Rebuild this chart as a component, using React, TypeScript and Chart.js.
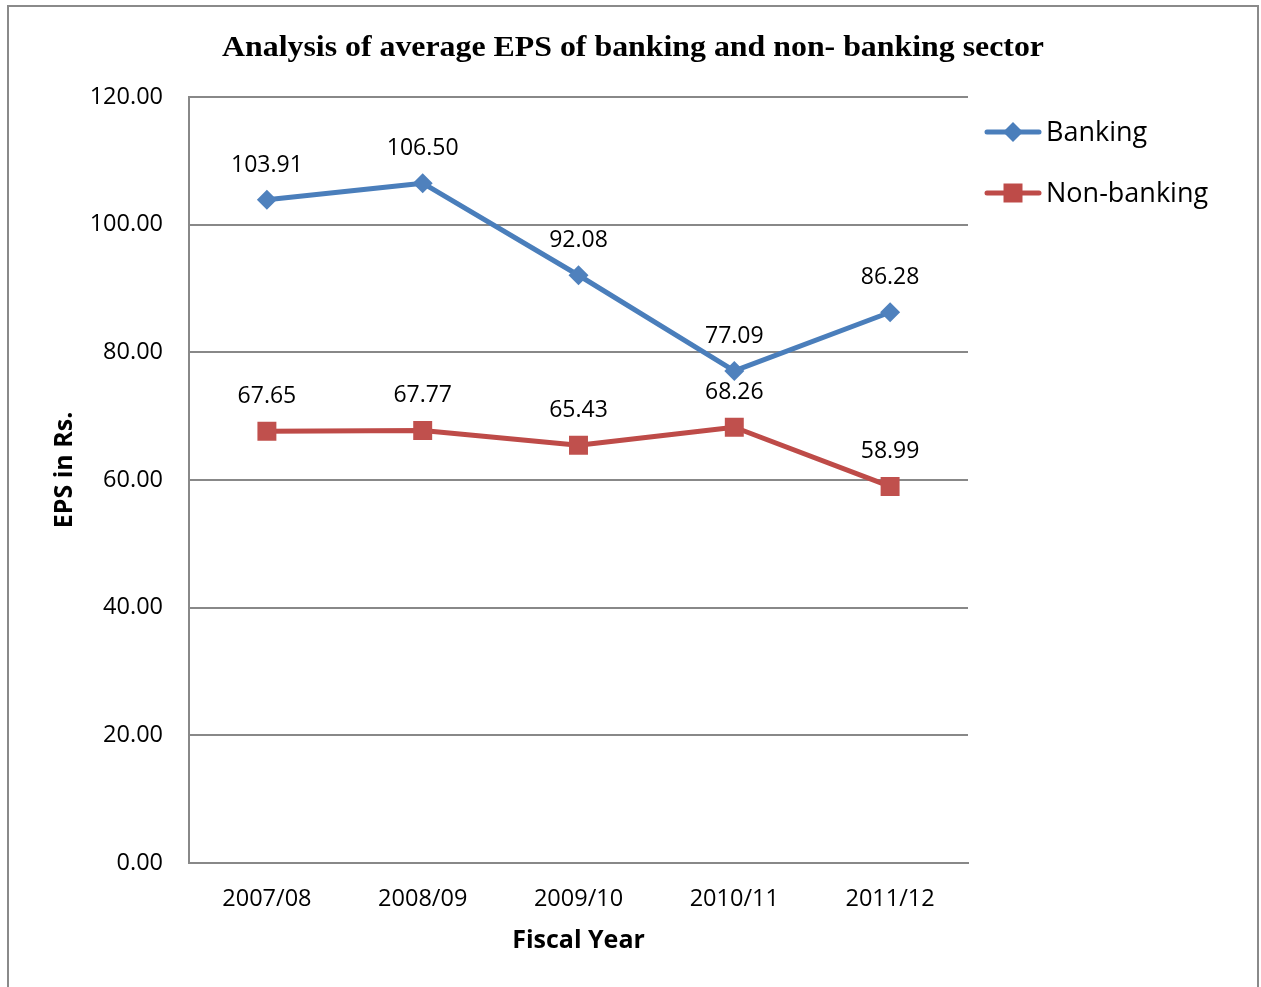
import React, { useEffect, useRef } from 'react';
import { Chart, registerables } from 'chart.js';

Chart.register(...registerables);

const categories = ['2007/08', '2008/09', '2009/10', '2010/11', '2011/12'];
const bankingValues = [103.91, 106.5, 92.08, 77.09, 86.28];
const nonBankingValues = [67.65, 67.77, 65.43, 68.26, 58.99];
const yTickValues = [0, 20, 40, 60, 80, 100, 120];
const seriesNames = ['Banking', 'Non-banking'];
const chartTitle = 'Analysis of average EPS of banking and non- banking sector';
const xAxisTitle = 'Fiscal Year';
const yAxisTitle = 'EPS in Rs.';

const BLUE = '#4A7EBB';
const RED = '#BE4B48';
const GRID = '#888888';
const FONT = '"Open Sans", "DejaVu Sans", sans-serif';

const decorPlugin = {
  id: 'decor',
  beforeDraw(chart: any) {
    const ctx = chart.ctx;
    ctx.save();
    ctx.fillStyle = '#ffffff';
    ctx.fillRect(0, 0, chart.width, chart.height);
    ctx.strokeStyle = '#8a8a8a';
    ctx.lineWidth = 2;
    ctx.strokeRect(8, 6, 1250, 1000);
    ctx.restore();
  },
  afterDraw(chart: any) {
    const ctx = chart.ctx;
    ctx.save();
    // title (stretched horizontally to the reference width)
    ctx.fillStyle = '#000';
    ctx.font = 'bold 29px "Liberation Serif", "Times New Roman", serif';
    ctx.textAlign = 'center';
    ctx.textBaseline = 'alphabetic';
    const w = ctx.measureText(chartTitle).width;
    const sx = 822 / w;
    ctx.save();
    ctx.translate(633, 56);
    ctx.scale(sx, 1);
    ctx.fillText(chartTitle, 0, 0);
    ctx.restore();

    // y axis title
    ctx.save();
    ctx.translate(65, 470);
    ctx.rotate(-Math.PI / 2);
    ctx.font = 'bold 25px ' + FONT;
    ctx.textAlign = 'center';
    ctx.textBaseline = 'middle';
    ctx.fillText(yAxisTitle, 0, 0);
    ctx.restore();

    // data labels
    ctx.font = '23px ' + FONT;
    ctx.textAlign = 'center';
    ctx.textBaseline = 'alphabetic';
    chart.data.datasets.forEach((ds: any, i: number) => {
      const meta = chart.getDatasetMeta(i);
      meta.data.forEach((pt: any, j: number) => {
        ctx.fillText(Number(ds.data[j]).toFixed(2), pt.x, pt.y - 28);
      });
    });

    // legend
    const items = [
      { label: seriesNames[0], color: BLUE, shape: 'diamond', y: 132 },
      { label: seriesNames[1], color: RED, shape: 'square', y: 193 },
    ];
    items.forEach((it) => {
      ctx.strokeStyle = it.color;
      ctx.lineWidth = 5;
      ctx.lineCap = 'round';
      ctx.beginPath();
      ctx.moveTo(987, it.y);
      ctx.lineTo(1039, it.y);
      ctx.stroke();
      ctx.fillStyle = it.color;
      const cx = 1013;
      ctx.beginPath();
      if (it.shape === 'diamond') {
        ctx.moveTo(cx - 10, it.y);
        ctx.lineTo(cx, it.y - 10);
        ctx.lineTo(cx + 10, it.y);
        ctx.lineTo(cx, it.y + 10);
        ctx.closePath();
      } else {
        ctx.rect(cx - 9.5, it.y - 9.5, 19, 19);
      }
      ctx.fill();
      ctx.fillStyle = '#000';
      ctx.font = '27px ' + FONT;
      ctx.textAlign = 'left';
      ctx.textBaseline = 'alphabetic';
      ctx.fillText(it.label, 1046, it.y + 9);
    });
    ctx.restore();
  },
};

export default function App() {
  const canvasRef = useRef<HTMLCanvasElement | null>(null);

  useEffect(() => {
    if (!canvasRef.current) return;
    const chart = new Chart(canvasRef.current, {
      type: 'line',
      data: {
        labels: categories,
        datasets: [
          {
            label: seriesNames[0],
            data: bankingValues,
            borderColor: BLUE,
            backgroundColor: BLUE,
            borderWidth: 5,
            tension: 0,
            pointStyle: 'rectRot',
            pointRadius: 10,
            pointHoverRadius: 10,
            pointBorderWidth: 0,
            pointBackgroundColor: '#4F81BD',
            borderJoinStyle: 'round',
            borderCapStyle: 'round',
          },
          {
            label: seriesNames[1],
            data: nonBankingValues,
            borderColor: RED,
            backgroundColor: RED,
            borderWidth: 5,
            tension: 0,
            pointStyle: 'rect',
            pointRadius: 13.4,
            pointHoverRadius: 13.4,
            pointBorderWidth: 0,
            pointBackgroundColor: '#C0504D',
            borderJoinStyle: 'round',
            borderCapStyle: 'round',
          },
        ],
      },
      options: {
        responsive: false,
        animation: false,
        layout: { padding: { top: 97, right: 293, left: 0, bottom: 0 } },
        plugins: {
          legend: { display: false },
          title: { display: false },
          tooltip: { enabled: false },
        },
        scales: {
          x: {
            offset: true,
            grid: { display: false, drawTicks: false },
            border: { display: true, color: GRID, width: 2 },
            ticks: {
              color: '#000',
              font: { family: FONT, size: 23.5 },
              padding: 22,
              maxRotation: 0,
            },
            title: {
              display: true,
              text: xAxisTitle,
              color: '#000',
              font: { family: FONT, size: 25, weight: 'bold' },
              padding: { top: 0, bottom: 31 },
            },
            afterFit(scale: any) {
              scale.height = 124;
            },
          },
          y: {
            min: 0,
            max: 120,
            afterBuildTicks(scale: any) {
              scale.ticks = yTickValues.map((v) => ({ value: v }));
            },
            ticks: {
              color: '#000',
              font: { family: FONT, size: 23.5 },
              padding: 26,
              callback: (v: any) => Number(v).toFixed(2),
            },
            grid: { color: GRID, lineWidth: 2, drawTicks: false },
            border: { display: true, color: GRID, width: 2 },
            afterFit(scale: any) {
              scale.width = 189;
            },
          },
        },
      },
      plugins: [decorPlugin],
    });
    return () => chart.destroy();
  }, []);

  return (
    <div style={{ position: 'absolute', left: 0, top: 0, width: 1261, height: 987, background: '#fff' }}>
      <canvas ref={canvasRef} width={1261} height={987} style={{ display: 'block' }} />
    </div>
  );
}
